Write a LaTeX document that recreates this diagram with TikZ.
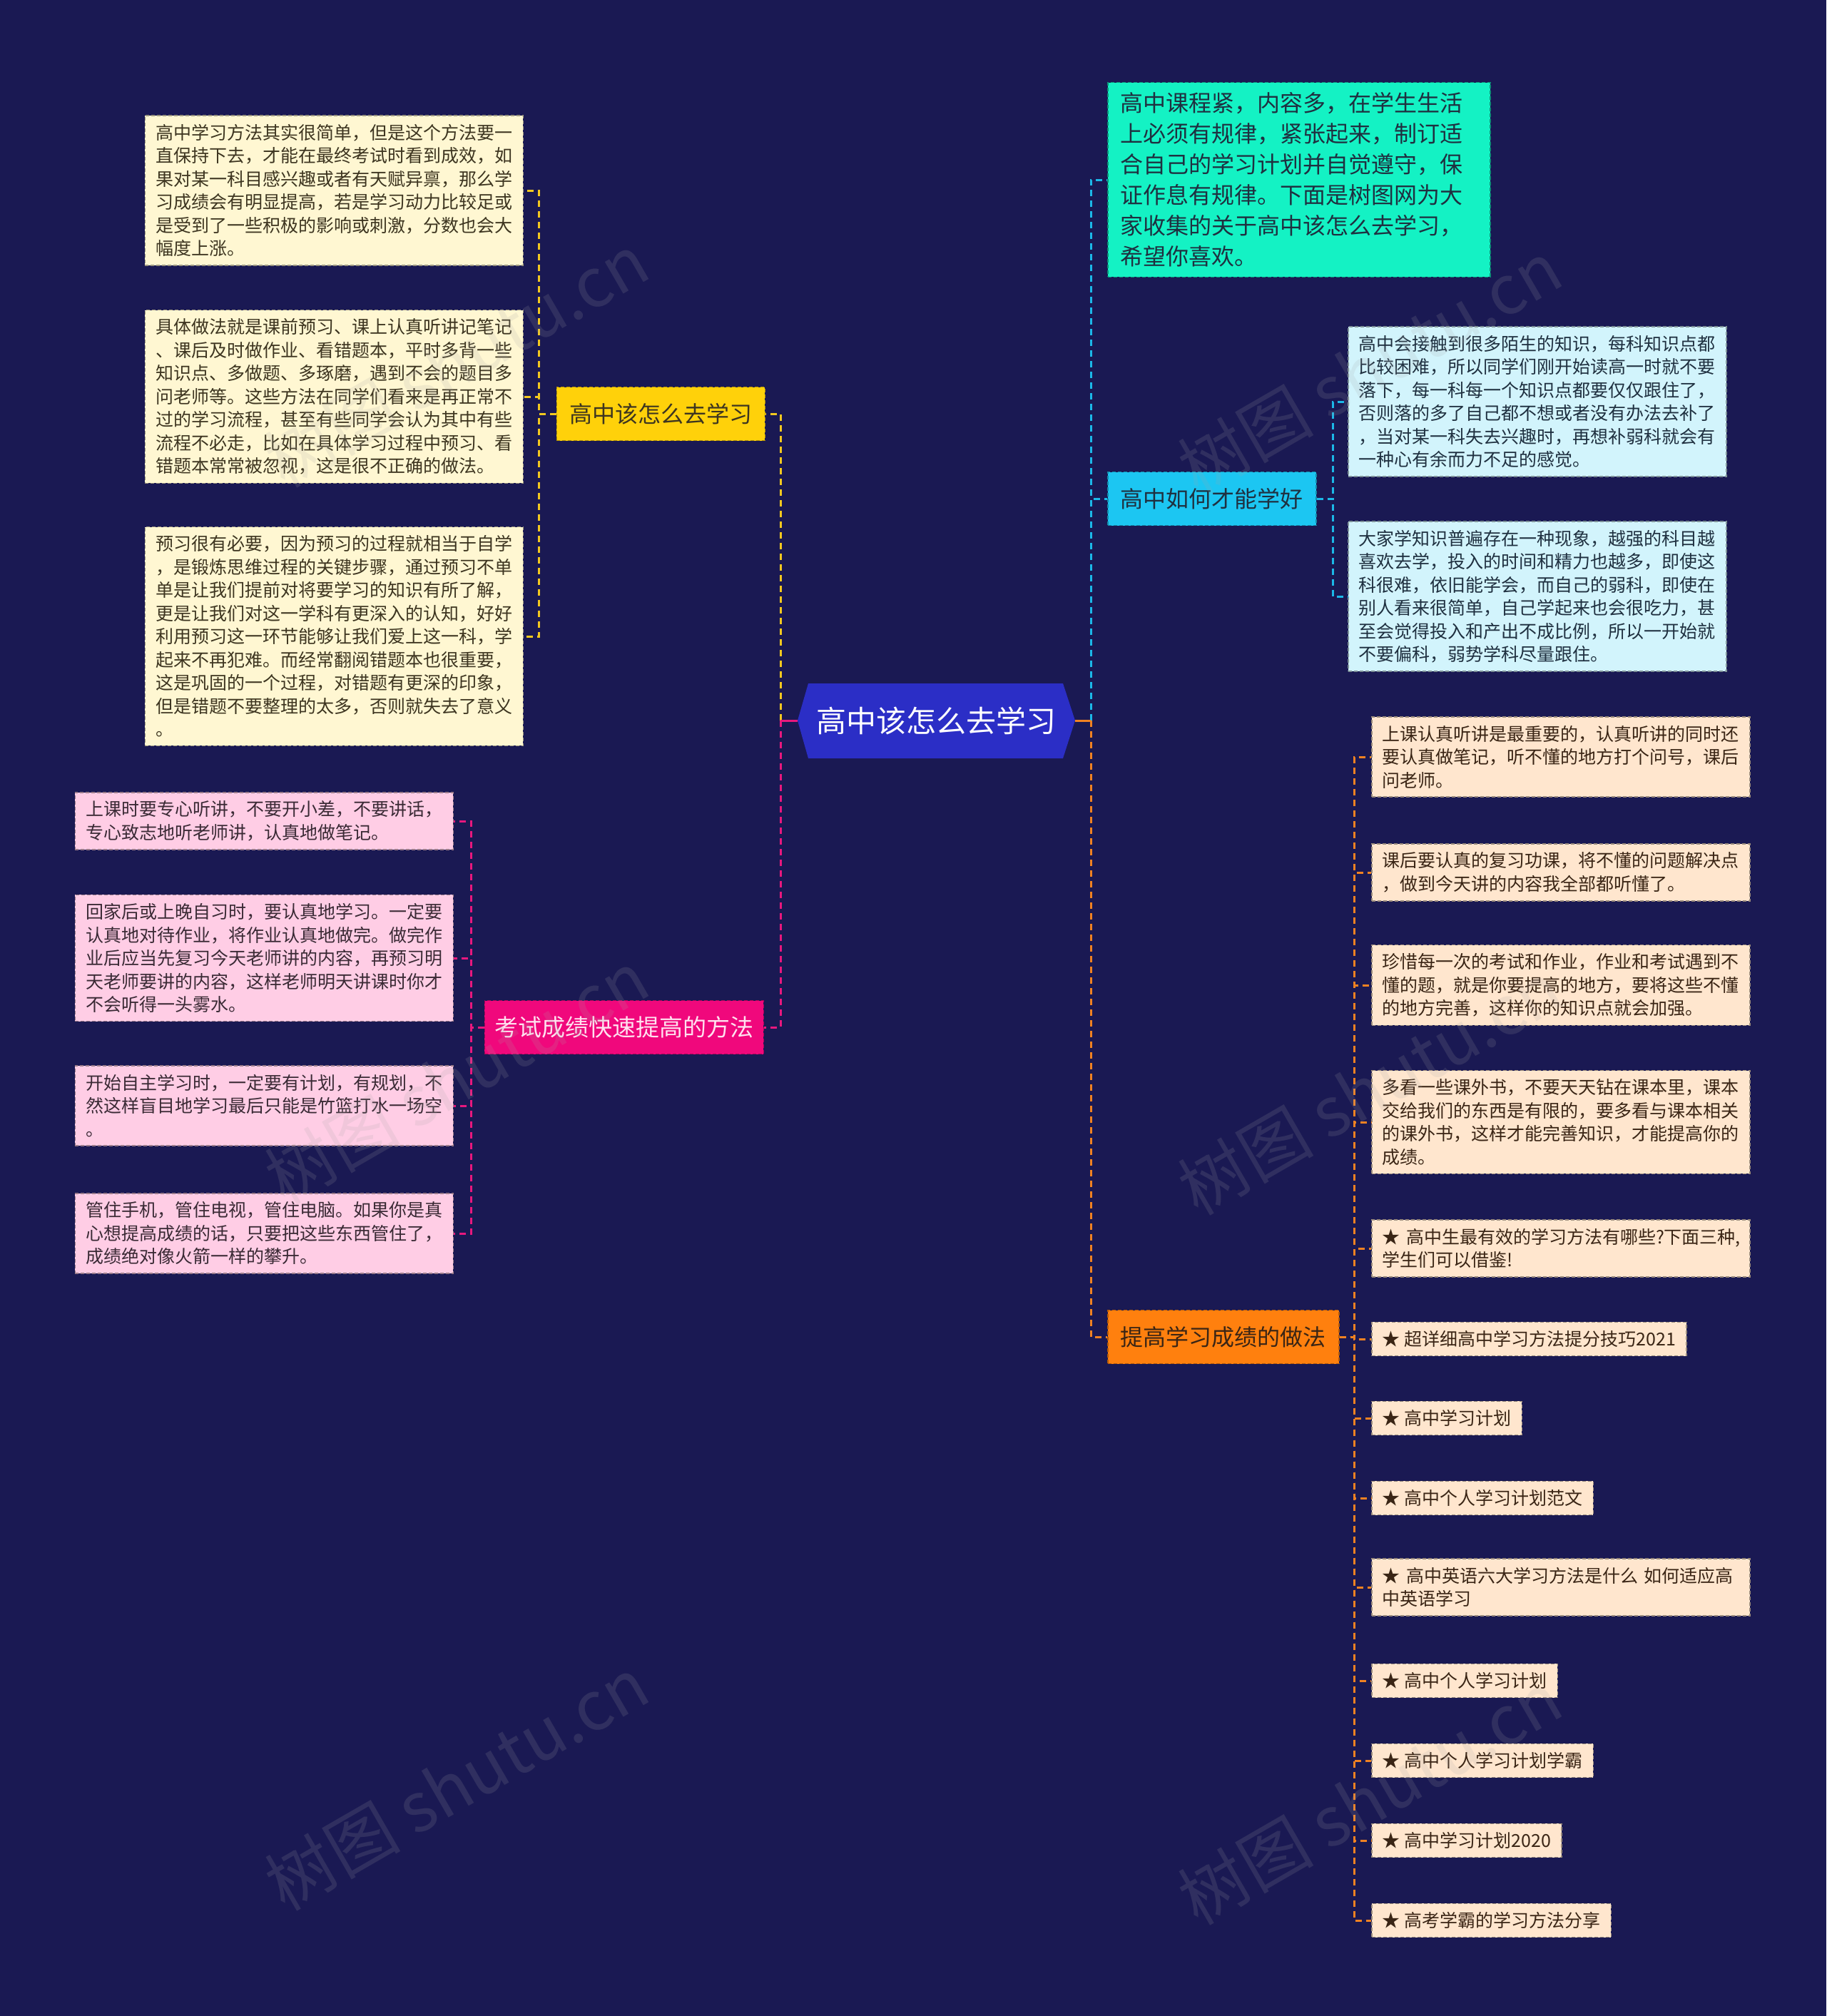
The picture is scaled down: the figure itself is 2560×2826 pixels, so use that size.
\documentclass[tikz,border=0pt]{standalone}
\usepackage{fontspec}
\setmainfont{Noto Sans CJK SC}
\definecolor{bgc}{HTML}{1A1953}
\definecolor{rootc}{HTML}{2B2EC6}
\definecolor{ylwf}{HTML}{FFD10A}
\definecolor{ylwl}{HTML}{F2C820}
\definecolor{pnkf}{HTML}{F0087C}
\definecolor{pnkl}{HTML}{E8187E}
\definecolor{cynf}{HTML}{1CC6F2}
\definecolor{cynl}{HTML}{1CB8E8}
\definecolor{orgf}{HTML}{FF800E}
\definecolor{orgl}{HTML}{F08222}
\definecolor{tealf}{HTML}{14F2C4}
\definecolor{creamf}{HTML}{FFF7D2}
\definecolor{pinkf}{HTML}{FFCDE5}
\definecolor{cyanf}{HTML}{D2F4FC}
\definecolor{orangef}{HTML}{FFE6CE}
\definecolor{creamt}{HTML}{3D3520}
\definecolor{pinkt}{HTML}{3A2A35}
\definecolor{cyant}{HTML}{1F3040}
\definecolor{oranget}{HTML}{3A2515}
\tikzset{
  box/.style={draw, dash pattern=on 5pt off 3pt, line width=1.5pt, inner xsep=15pt, inner ysep=12pt, align=left, font=\fontsize{25}{32.5}\selectfont},
  wide/.style={text width=500pt},
  lbox/.style={box, fill=creamf, draw=creamf!60!black, text=creamt},
  pbox/.style={box, fill=pinkf, draw=pinkf!60!black, text=pinkt},
  cbox/.style={box, fill=cyanf, draw=cyanf!60!black, text=cyant},
  obox/.style={box, fill=orangef, draw=orangef!60!black, text=oranget},
  branch/.style={draw, dash pattern=on 5pt off 3pt, line width=1.5pt, inner xsep=18pt, minimum height=75pt, font=\fontsize{32}{40}\selectfont},
  conn/.style={line width=3pt, dash pattern=on 9pt off 6pt},
  wm/.style={text=gray!70!white, opacity=0.16, font=\fontsize{95}{100}\selectfont, rotate=30}
}
\begin{document}
\begin{tikzpicture}[x=1pt,y=-1pt]
\fill[bgc] (0,0) rectangle (2560,2826);
\useasboundingbox (0,0) rectangle (2560,2826);

% root
\fill[rootc] (1118,1010) -- (1133,958) -- (1490,958) -- (1507,1010) -- (1490,1063) -- (1133,1063) -- cycle;
\node[minimum width=389pt, minimum height=105pt, inner sep=0pt, text=white, font=\fontsize{42}{50}\selectfont] (root) at (1312.5,1010) {高中该怎么去学习};

% branches
\node[branch, fill=ylwf, draw=ylwf!70!black, text=creamt, anchor=east] (Y) at (1073,580) {高中该怎么去学习};
\node[branch, fill=pnkf, draw=pnkf!70!black, text=pinkf!60!white, anchor=east, inner xsep=14pt, minimum width=390pt, font=\fontsize{33}{40}\selectfont] (P) at (1071,1440) {考试成绩快速提高的方法};
\node[box, fill=tealf, draw=tealf!60!black, text=cyant, anchor=west, inner xsep=18pt, inner ysep=14pt, text width=500pt, font=\fontsize{32}{43}\selectfont] (T) at (1552,252) {高中课程紧，内容多，在学生生活\\上必须有规律，紧张起来，制订适\\合自己的学习计划并自觉遵守，保\\证作息有规律。下面是树图网为大\\家收集的关于高中该怎么去学习，\\希望你喜欢。};
\node[branch, fill=cynf, draw=cynf!70!black, text=cyant, anchor=west] (C) at (1552,699) {高中如何才能学好};
\node[branch, fill=orgf, draw=orgf!70!black, text=oranget, anchor=west] (O) at (1552,1874) {提高学习成绩的做法};

% left yellow children
\node[lbox, wide, anchor=east] (L1) at (734,267) {高中学习方法其实很简单，但是这个方法要一\\直保持下去，才能在最终考试时看到成效，如\\果对某一科目感兴趣或者有天赋异禀，那么学\\习成绩会有明显提高，若是学习动力比较足或\\是受到了一些积极的影响或刺激，分数也会大\\幅度上涨。};
\node[lbox, wide, anchor=east] (L2) at (734,556) {具体做法就是课前预习、课上认真听讲记笔记\\、课后及时做作业、看错题本，平时多背一些\\知识点、多做题、多琢磨，遇到不会的题目多\\问老师等。这些方法在同学们看来是再正常不\\过的学习流程，甚至有些同学会认为其中有些\\流程不必走，比如在具体学习过程中预习、看\\错题本常常被忽视，这是很不正确的做法。};
\node[lbox, wide, anchor=east] (L3) at (734,892) {预习很有必要，因为预习的过程就相当于自学\\，是锻炼思维过程的关键步骤，通过预习不单\\单是让我们提前对将要学习的知识有所了解，\\更是让我们对这一学科有更深入的认知，好好\\利用预习这一环节能够让我们爱上这一科，学\\起来不再犯难。而经常翻阅错题本也很重要，\\这是巩固的一个过程，对错题有更深的印象，\\但是错题不要整理的太多，否则就失去了意义\\。};

% left pink children
\node[pbox, wide, anchor=east] (P1) at (636,1151) {上课时要专心听讲，不要开小差，不要讲话，\\专心致志地听老师讲，认真地做笔记。};
\node[pbox, wide, anchor=east] (P2) at (636,1343) {回家后或上晚自习时，要认真地学习。一定要\\认真地对待作业，将作业认真地做完。做完作\\业后应当先复习今天老师讲的内容，再预习明\\天老师要讲的内容，这样老师明天讲课时你才\\不会听得一头雾水。};
\node[pbox, wide, anchor=east] (P3) at (636,1550) {开始自主学习时，一定要有计划，有规划，不\\然这样盲目地学习最后只能是竹篮打水一场空\\。};
\node[pbox, wide, anchor=east] (P4) at (636,1729) {管住手机，管住电视，管住电脑。如果你是真\\心想提高成绩的话，只要把这些东西管住了，\\成绩绝对像火箭一样的攀升。};

% right cyan children
\node[cbox, wide, anchor=west] (C1) at (1889,563) {高中会接触到很多陌生的知识，每科知识点都\\比较困难，所以同学们刚开始读高一时就不要\\落下，每一科每一个知识点都要仅仅跟住了，\\否则落的多了自己都不想或者没有办法去补了\\，当对某一科失去兴趣时，再想补弱科就会有\\一种心有余而力不足的感觉。};
\node[cbox, wide, anchor=west] (C2) at (1889,836) {大家学知识普遍存在一种现象，越强的科目越\\喜欢去学，投入的时间和精力也越多，即使这\\科很难，依旧能学会，而自己的弱科，即使在\\别人看来很简单，自己学起来也会很吃力，甚\\至会觉得投入和产出不成比例，所以一开始就\\不要偏科，弱势学科尽量跟住。};

% right orange children
\node[obox, wide, anchor=west] (O1) at (1922,1061) {上课认真听讲是最重要的，认真听讲的同时还\\要认真做笔记，听不懂的地方打个问号，课后\\问老师。};
\node[obox, wide, anchor=west] (O2) at (1922,1223) {课后要认真的复习功课，将不懂的问题解决点\\，做到今天讲的内容我全部都听懂了。};
\node[obox, wide, anchor=west] (O3) at (1922,1381) {珍惜每一次的考试和作业，作业和考试遇到不\\懂的题，就是你要提高的地方，要将这些不懂\\的地方完善，这样你的知识点就会加强。};
\node[obox, wide, anchor=west] (O4) at (1922,1573) {多看一些课外书，不要天天钻在课本里，课本\\交给我们的东西是有限的，要多看与课本相关\\的课外书，这样才能完善知识，才能提高你的\\成绩。};
\node[obox, wide, anchor=west] (O5) at (1922,1750) {\mbox{★ 高中生最有效的学习方法有哪些?下面三种,}\\学生们可以借鉴!};
\node[obox, anchor=west] (O6) at (1922,1877) {★ 超详细高中学习方法提分技巧2021};
\node[obox, anchor=west] (O7) at (1922,1988) {★ 高中学习计划};
\node[obox, anchor=west] (O8) at (1922,2100) {★ 高中个人学习计划范文};
\node[obox, wide, anchor=west] (O9) at (1922,2225) {\mbox{★ 高中英语六大学习方法是什么 如何适应高}\\中英语学习};
\node[obox, anchor=west] (O10) at (1922,2356) {★ 高中个人学习计划};
\node[obox, anchor=west] (O11) at (1922,2468) {★ 高中个人学习计划学霸};
\node[obox, anchor=west] (O12) at (1922,2580) {★ 高中学习计划2020};
\node[obox, anchor=west] (O13) at (1922,2692) {★ 高考学霸的学习方法分享};

% junctions
\coordinate (jL) at (1094,1010);
\coordinate (jR) at (1529,1010);
\coordinate (yj) at (755,580);
\coordinate (pj) at (660,1440);
\coordinate (cj) at (1868,699);
\coordinate (oj) at (1898,1874);

% root connectors
\draw[conn, ylwl] (jL) |- (Y.east);
\draw[conn, pnkl] (jL) |- (P.east);
\draw[pnkl, line width=3pt] (root.west) -- (jL);
\draw[conn, cynl] (jR) |- (T.west);
\draw[conn, cynl] (jR) |- (C.west);
\draw[conn, orgl] (jR) |- (O.west);
\draw[orgl, line width=3pt] (root.east) -- (jR);

% branch connectors
\foreach \n in {L1,L2,L3} \draw[conn, ylwl] (Y.west) -- (yj) |- (\n.east);
\foreach \n in {P1,P2,P3,P4} \draw[conn, pnkl] (P.west) -- (pj) |- (\n.east);
\foreach \n in {C1,C2} \draw[conn, cynl] (C.east) -- (cj) |- (\n.west);
\foreach \n in {O1,O2,O3,O4,O5,O6,O7,O8,O9,O10,O11,O12,O13} \draw[conn, orgl] (O.east) -- (oj) |- (\n.west);

% watermarks
\node[wm] (w1) at (640,505) {树图 shutu.cn};
\node[wm] (w2) at (1920,515) {树图 shutu.cn};
\node[wm] (w3) at (640,1510) {树图 shutu.cn};
\node[wm] (w4) at (1920,1525) {树图 shutu.cn};
\node[wm] (w5) at (640,2500) {树图 shutu.cn};
\node[wm] (w6) at (1920,2520) {树图 shutu.cn};
\end{tikzpicture}
\end{document}
